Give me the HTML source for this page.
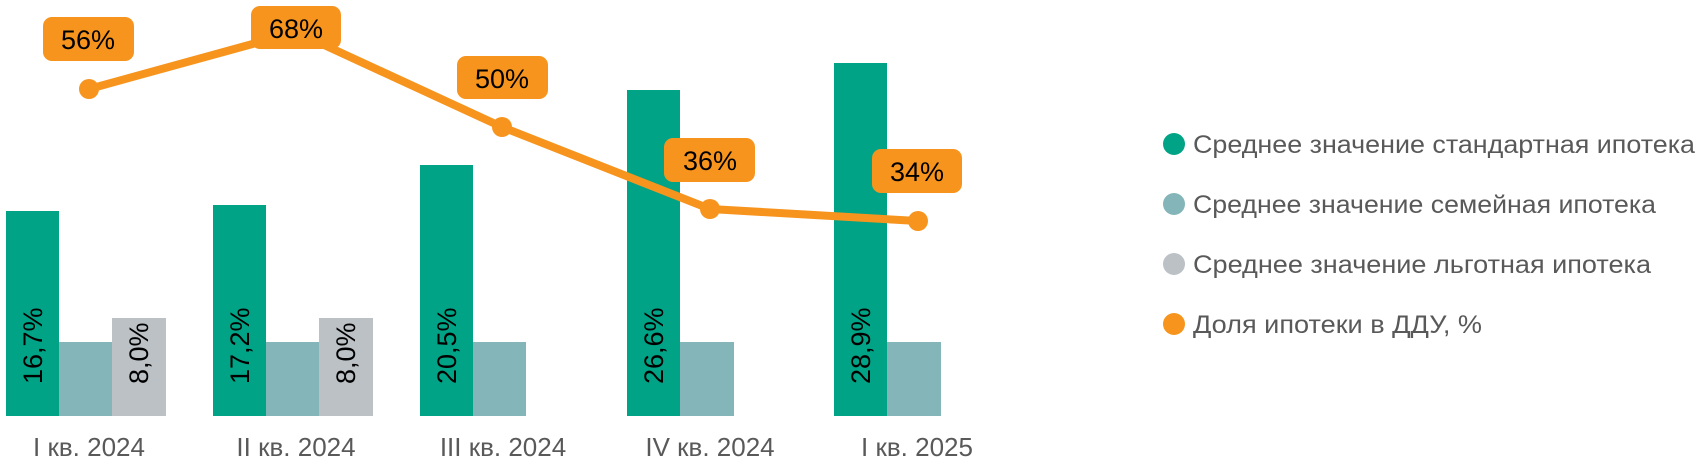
<!DOCTYPE html>
<html><head><meta charset="utf-8"><style>
html,body{margin:0;padding:0;background:#fff;}
svg{display:block;}
text{font-family:"Liberation Sans",sans-serif;}
</style></head><body>
<svg width="1698" height="462" viewBox="0 0 1698 462" xmlns="http://www.w3.org/2000/svg">
<g>
<rect x="6" y="211" width="53" height="205" fill="#00A385"/>
<rect x="59" y="342" width="53" height="74" fill="#84B5B9"/>
<rect x="112" y="318" width="54" height="98" fill="#BCC1C6"/>
<rect x="213" y="205" width="53" height="211" fill="#00A385"/>
<rect x="266" y="342" width="53" height="74" fill="#84B5B9"/>
<rect x="319" y="318" width="54" height="98" fill="#BCC1C6"/>
<rect x="420" y="165" width="53" height="251" fill="#00A385"/>
<rect x="473" y="342" width="53" height="74" fill="#84B5B9"/>
<rect x="627" y="90" width="53" height="326" fill="#00A385"/>
<rect x="680" y="342" width="54" height="74" fill="#84B5B9"/>
<rect x="834" y="63" width="53" height="353" fill="#00A385"/>
<rect x="887" y="342" width="54" height="74" fill="#84B5B9"/>
</g>
<g font-size="27" fill="#000">
<text transform="translate(42,384) rotate(-90)">16,7%</text>
<text transform="translate(148,384) rotate(-90)">8,0%</text>
<text transform="translate(249,384) rotate(-90)">17,2%</text>
<text transform="translate(355,384) rotate(-90)">8,0%</text>
<text transform="translate(456,384) rotate(-90)">20,5%</text>
<text transform="translate(663,384) rotate(-90)">26,6%</text>
<text transform="translate(870,384) rotate(-90)">28,9%</text>
</g>
<polyline points="89,89 296,32 502,127 710,209 918,221" fill="none" stroke="#F7941D" stroke-width="8" stroke-linejoin="round"/>
<g fill="#F7941D">
<circle cx="89" cy="89" r="10"/><circle cx="296" cy="32" r="10"/><circle cx="502" cy="127" r="10"/><circle cx="710" cy="209" r="10"/><circle cx="918" cy="221" r="10"/>
<rect x="43" y="17" width="91" height="44" rx="9"/>
<rect x="251" y="6" width="90" height="43" rx="9"/>
<rect x="457" y="56" width="91" height="43" rx="9"/>
<rect x="664" y="138" width="91" height="44" rx="9"/>
<rect x="872" y="149" width="90" height="44" rx="9"/>
</g>
<g font-size="27" fill="#000" text-anchor="middle">
<text x="88" y="49">56%</text>
<text x="296" y="38">68%</text>
<text x="502" y="88">50%</text>
<text x="710" y="170">36%</text>
<text x="917" y="181">34%</text>
</g>
<g font-size="26" fill="#595959" text-anchor="middle">
<text x="89" y="456">I кв. 2024</text>
<text x="296" y="456">II кв. 2024</text>
<text x="503" y="456">III кв. 2024</text>
<text x="710" y="456">IV кв. 2024</text>
<text x="917" y="456">I кв. 2025</text>
</g>
<g>
<circle cx="1174" cy="144" r="11" fill="#00A385"/>
<circle cx="1174" cy="204" r="11" fill="#84B5B9"/>
<circle cx="1174" cy="264" r="11" fill="#BCC1C6"/>
<circle cx="1174" cy="324" r="11" fill="#F7941D"/>
</g>
<g font-size="25" fill="#595959">
<text x="1193" y="153" textLength="502" lengthAdjust="spacingAndGlyphs">Среднее значение стандартная ипотека</text>
<text x="1193" y="213" textLength="463" lengthAdjust="spacingAndGlyphs">Среднее значение семейная ипотека</text>
<text x="1193" y="273" textLength="458" lengthAdjust="spacingAndGlyphs">Среднее значение льготная ипотека</text>
<text x="1193" y="333" textLength="289" lengthAdjust="spacingAndGlyphs">Доля ипотеки в ДДУ, %</text>
</g>
</svg>
</body></html>
